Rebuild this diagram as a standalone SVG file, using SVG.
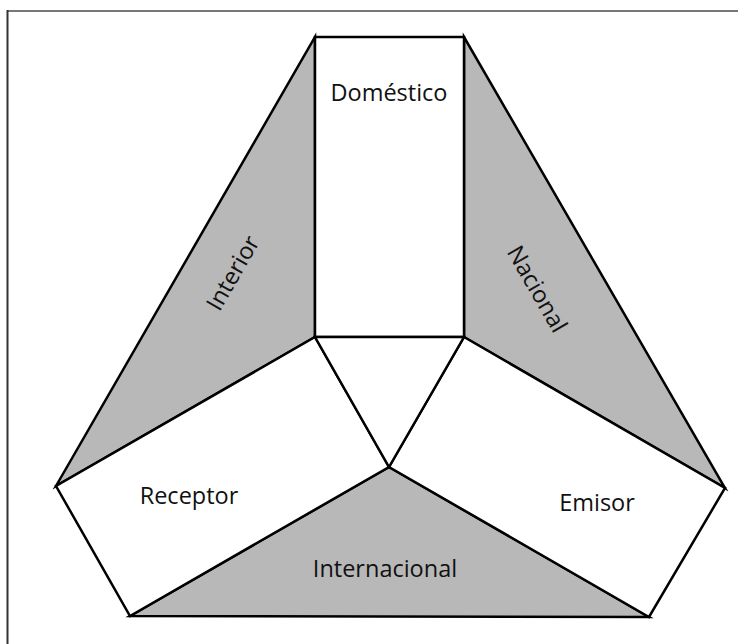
<svg xmlns="http://www.w3.org/2000/svg" width="738" height="644" viewBox="0 0 738 644">
<style>
.g{fill:#b8b8b8;stroke:#000;stroke-width:2.5;stroke-linejoin:miter}
.w{fill:#fff;stroke:#000;stroke-width:2.5;stroke-linejoin:miter}
.t{font-family:"Open Sans","Noto Sans","Liberation Sans",sans-serif;font-size:23.5px;fill:#111;text-anchor:middle}
</style>
<rect width="738" height="644" fill="#fff"/>
<g id="frame">
<line x1="7" y1="11" x2="738" y2="11" stroke="#777" stroke-width="2"/>
<line x1="7.5" y1="10" x2="7.5" y2="644" stroke="#333" stroke-width="2"/>
</g>
<g id="interior">
<polygon class="g" points="315,37 315,337 56,486"/>
<text class="t" transform="translate(233,273) rotate(-60)" y="8">Interior</text>
</g>
<g id="nacional">
<polygon class="g" points="464,37 464,337 725,488"/>
<text class="t" transform="translate(537,289) rotate(60)" y="8">Nacional</text>
</g>
<g id="internacional">
<polygon class="g" points="389,467 130,616 649,617"/>
<text class="t" x="385" y="577">Internacional</text>
</g>
<g id="domestico">
<rect class="w" x="315" y="37" width="149" height="300"/>
<text class="t" x="389" y="101">Doméstico</text>
</g>
<g id="receptor">
<polygon class="w" points="315,337 389,467 130,616 56,486"/>
<text class="t" x="189" y="504">Receptor</text>
</g>
<g id="emisor">
<polygon class="w" points="464,337 725,488 649,617 389,467"/>
<text class="t" x="597" y="511">Emisor</text>
</g>
<g id="centro">
<polygon class="w" points="315,337 464,337 389,467"/>
</g>
</svg>
